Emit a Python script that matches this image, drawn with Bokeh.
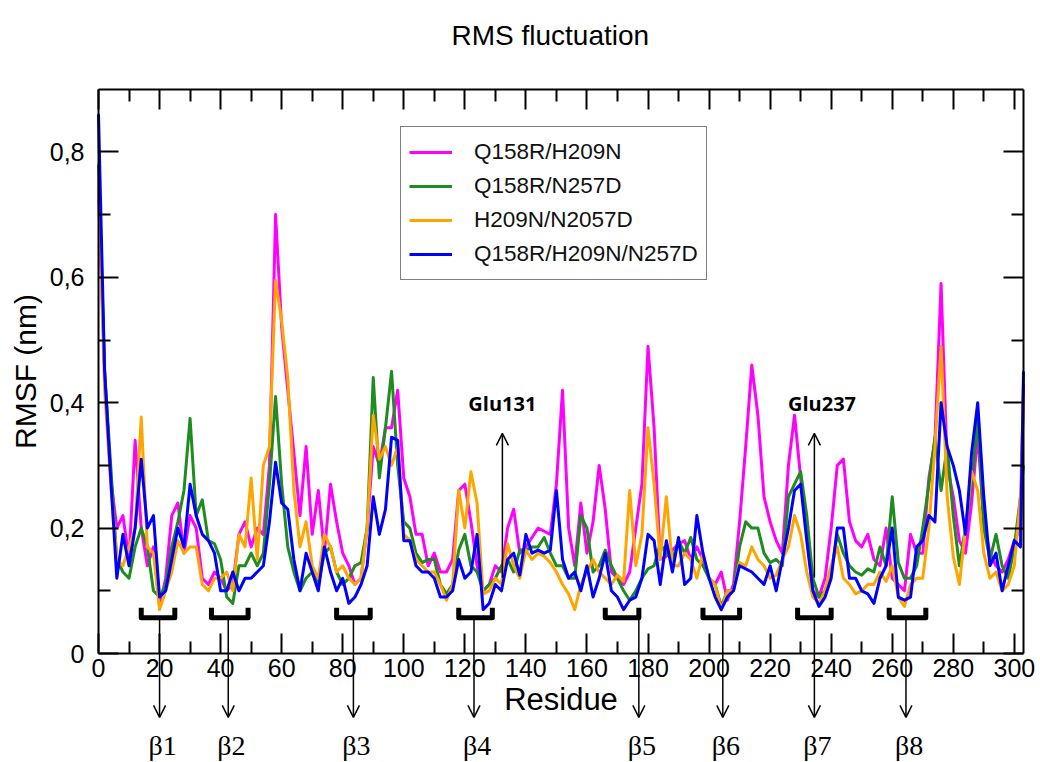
from bokeh.plotting import figure
from bokeh.models import (Range1d, LinearAxis, FixedTicker, CustomJSTickFormatter, Legend,
                          LegendItem, Arrow, OpenHead, Label, ColumnDataSource)
from bokeh.embed import file_html
from bokeh.resources import INLINE

# ---------------- data ----------------
residue = list(range(0, 303, 2)) + [303]

q158r_h209n = [
    0.74, 0.45, 0.28, 0.20, 0.22, 0.15, 0.34, 0.20, 0.14, 0.17, 0.075, 0.12, 0.22, 0.24, 0.16, 0.22,
    0.20, 0.12, 0.11, 0.13, 0.12, 0.10, 0.11, 0.19, 0.21, 0.17, 0.20, 0.19, 0.30, 0.70, 0.52, 0.42,
    0.32, 0.22, 0.33, 0.19, 0.26, 0.16, 0.27, 0.21, 0.16,
    0.14, 0.11, 0.12, 0.20, 0.33, 0.30, 0.36, 0.36, 0.42, 0.28, 0.25, 0.19, 0.19, 0.14, 0.16, 0.13,
    0.13, 0.15, 0.26, 0.27, 0.21, 0.14, 0.10, 0.11, 0.14, 0.13, 0.20, 0.23, 0.16, 0.17, 0.185, 0.20,
    0.195, 0.19, 0.27, 0.42, 0.20, 0.14, 0.24, 0.16,
    0.21, 0.30, 0.23, 0.13, 0.12, 0.11, 0.13, 0.20, 0.27, 0.49, 0.36, 0.15, 0.155, 0.165, 0.175, 0.18,
    0.15, 0.17, 0.15, 0.12, 0.11, 0.13, 0.085, 0.11, 0.21, 0.33, 0.46, 0.38, 0.25, 0.21, 0.18, 0.16,
    0.30, 0.38, 0.28, 0.19, 0.10, 0.09, 0.12, 0.20,
    0.30, 0.31, 0.21, 0.18, 0.17, 0.19, 0.15, 0.14, 0.20, 0.12, 0.11, 0.10, 0.19, 0.16, 0.16, 0.28,
    0.34, 0.59, 0.30, 0.25, 0.18, 0.16, 0.24, 0.35, 0.21, 0.16, 0.14, 0.13, 0.15, 0.18, 0.20, 0.43,
]

q158r_n257d = [
    0.78, 0.45, 0.30, 0.15, 0.13, 0.12, 0.17, 0.20, 0.17, 0.10, 0.09, 0.11, 0.17, 0.21, 0.26, 0.375,
    0.22, 0.245, 0.18, 0.175, 0.15, 0.09, 0.08, 0.14, 0.14, 0.16, 0.14, 0.16, 0.27, 0.41, 0.27, 0.17,
    0.13, 0.10, 0.12, 0.13, 0.11, 0.16, 0.17, 0.13, 0.11,
    0.12, 0.14, 0.145, 0.20, 0.44, 0.28, 0.36, 0.45, 0.30, 0.21, 0.20, 0.16, 0.145, 0.15, 0.15, 0.11,
    0.095, 0.11, 0.165, 0.19, 0.14, 0.13, 0.10, 0.11, 0.12, 0.14, 0.15, 0.13, 0.165, 0.165, 0.17, 0.17,
    0.185, 0.16, 0.14, 0.14, 0.12, 0.12, 0.22, 0.20,
    0.13, 0.14, 0.165, 0.14, 0.12, 0.10, 0.085, 0.10, 0.12, 0.135, 0.14, 0.175, 0.16, 0.15, 0.18, 0.16,
    0.185, 0.15, 0.14, 0.12, 0.11, 0.075, 0.10, 0.10, 0.17, 0.21, 0.20, 0.20, 0.16, 0.145, 0.15, 0.14,
    0.25, 0.27, 0.29, 0.22, 0.12, 0.09, 0.10, 0.13,
    0.19, 0.16, 0.14, 0.13, 0.125, 0.135, 0.13, 0.17, 0.14, 0.25, 0.145, 0.12, 0.12, 0.14, 0.20, 0.27,
    0.345, 0.26, 0.33, 0.22, 0.14, 0.20, 0.27, 0.375, 0.20, 0.15, 0.19, 0.14, 0.12, 0.17, 0.25, 0.30,
]

h209n_n2057d = [
    0.75, 0.42, 0.27, 0.15, 0.14, 0.17, 0.20, 0.377, 0.17, 0.16, 0.07, 0.10, 0.13, 0.18, 0.16, 0.17,
    0.17, 0.11, 0.10, 0.12, 0.12, 0.13, 0.10, 0.19, 0.17, 0.28, 0.15, 0.30, 0.33, 0.595, 0.53, 0.44,
    0.26, 0.17, 0.21, 0.14, 0.12, 0.19, 0.17, 0.13, 0.14,
    0.12, 0.11, 0.12, 0.20, 0.38, 0.31, 0.33, 0.30, 0.33, 0.19, 0.18, 0.15, 0.14, 0.13, 0.13, 0.11,
    0.085, 0.11, 0.26, 0.20, 0.29, 0.24, 0.095, 0.10, 0.12, 0.11, 0.175, 0.14, 0.12, 0.165, 0.15, 0.16,
    0.155, 0.145, 0.13, 0.11, 0.095, 0.07, 0.11, 0.13,
    0.15, 0.13, 0.12, 0.11, 0.125, 0.115, 0.26, 0.14, 0.19, 0.36, 0.27, 0.15, 0.25, 0.14, 0.14, 0.16,
    0.15, 0.12, 0.16, 0.12, 0.11, 0.07, 0.10, 0.10, 0.145, 0.14, 0.17, 0.15, 0.14, 0.12, 0.125, 0.15,
    0.17, 0.22, 0.19, 0.13, 0.09, 0.08, 0.10, 0.14,
    0.17, 0.12, 0.11, 0.095, 0.10, 0.11, 0.11, 0.13, 0.115, 0.14, 0.09, 0.075, 0.11, 0.12, 0.12, 0.20,
    0.33, 0.49, 0.25, 0.155, 0.11, 0.20, 0.29, 0.26, 0.16, 0.12, 0.13, 0.10, 0.11, 0.14, 0.25, 0.41,
]

q158r_h209n_n257d = [
    0.86, 0.45, 0.28, 0.12, 0.19, 0.14, 0.20, 0.31, 0.20, 0.22, 0.09, 0.10, 0.15, 0.20, 0.17, 0.27,
    0.22, 0.19, 0.18, 0.16, 0.10, 0.10, 0.13, 0.10, 0.12, 0.12, 0.13, 0.14, 0.21, 0.305, 0.24, 0.23,
    0.15, 0.10, 0.16, 0.13, 0.10, 0.17, 0.13, 0.10, 0.12,
    0.08, 0.09, 0.11, 0.14, 0.25, 0.19, 0.23, 0.345, 0.34, 0.18, 0.18, 0.14, 0.13, 0.13, 0.12, 0.09,
    0.09, 0.10, 0.15, 0.12, 0.13, 0.19, 0.07, 0.08, 0.11, 0.10, 0.15, 0.16, 0.125, 0.19, 0.16, 0.165,
    0.16, 0.165, 0.26, 0.15, 0.12, 0.13, 0.10, 0.14,
    0.09, 0.12, 0.16, 0.10, 0.09, 0.07, 0.085, 0.09, 0.12, 0.19, 0.18, 0.11, 0.18, 0.13, 0.185, 0.11,
    0.12, 0.22, 0.16, 0.12, 0.09, 0.07, 0.09, 0.10, 0.14, 0.135, 0.13, 0.12, 0.11, 0.14, 0.10, 0.15,
    0.20, 0.26, 0.27, 0.18, 0.10, 0.075, 0.09, 0.12,
    0.20, 0.20, 0.12, 0.12, 0.10, 0.095, 0.08, 0.12, 0.14, 0.20, 0.09, 0.085, 0.09, 0.17, 0.18, 0.22,
    0.21, 0.40, 0.33, 0.30, 0.26, 0.19, 0.32, 0.40, 0.25, 0.14, 0.16, 0.10, 0.14, 0.18, 0.17, 0.45,
]

series_names = ["Q158R/H209N", "Q158R/N257D", "H209N/N2057D", "Q158R/H209N/N257D"]
series_colors = ["#FF00FF", "#1E8C1E", "#FFA500", "#0000FF"]

x_ticks = list(range(0, 301, 20))
x_minor_ticks = list(range(10, 301, 20))
y_ticks = [0, 0.2, 0.4, 0.6, 0.8]
y_minor_ticks = [0.1, 0.3, 0.5, 0.7]
y_tick_labels = ["0", "0,2", "0,4", "0,6", "0,8"]

beta_names = ["β1", "β2", "β3", "β4", "β5", "β6", "β7", "β8"]
beta_start = [14, 37, 78, 118, 166, 198, 229, 259]
beta_end = [25, 49, 89, 129, 177, 210, 240, 271]
beta_arrow = [20, 42.5, 83.5, 123, 177, 204.5, 234.5, 264.5]

glu_names = ["Glu131", "Glu237"]
glu_arrow = [132.3, 234.5]
glu_label_x = [132.3, 237]

FONT = "Liberation Sans"
X_MAX = 303
Y_MAX = 0.9

# ---------------- figure ----------------
# The frame covers the whole canvas; the data box (0..303 x 0..0.9) is drawn by four
# axes placed at fixed locations with bounds, so nothing outside the box gets clipped.
PX_X = 925 / 303   # pixels per residue
PX_Y = 627         # pixels per nm
p = figure(width=1040, height=762, output_backend="svg", toolbar_location=None,
           x_range=Range1d(-98 / PX_X, X_MAX + 17 / PX_X),
           y_range=Range1d(-109 / PX_Y, 653 / PX_Y),
           min_border_left=0, min_border_right=0, min_border_top=0, min_border_bottom=0,
           x_axis_label="Residue", y_axis_label="RMSF (nm)")
xaxis_b = p.xaxis[0]
yaxis_l = p.yaxis[0]
p.xgrid.visible = False
p.ygrid.visible = False
p.outline_line_color = None
p.background_fill_color = "white"
p.border_fill_color = "white"

xt = FixedTicker(ticks=x_ticks, minor_ticks=x_minor_ticks)
yt = FixedTicker(ticks=y_ticks, minor_ticks=y_minor_ticks)
xaxis_b.ticker = xt
xaxis_b.fixed_location = 0
xaxis_b.bounds = (0, X_MAX)
yaxis_l.ticker = yt
yaxis_l.fixed_location = 0
yaxis_l.bounds = (0, Y_MAX)
yaxis_l.major_label_overrides = dict(zip(y_ticks, y_tick_labels))

blank = CustomJSTickFormatter(code="return ''")
top_axis = LinearAxis(ticker=xt, formatter=blank, fixed_location=Y_MAX, bounds=(0, X_MAX))
right_axis = LinearAxis(ticker=yt, formatter=blank, fixed_location=X_MAX, bounds=(0, Y_MAX))
p.add_layout(top_axis, "above")
p.add_layout(right_axis, "right")

for ax in [xaxis_b, yaxis_l, top_axis, right_axis]:
    ax.major_tick_in = 20
    ax.major_tick_out = 0
    ax.minor_tick_in = 12
    ax.minor_tick_out = 0
    ax.major_tick_line_width = 2
    ax.minor_tick_line_width = 2
    ax.axis_line_width = 2
    ax.major_tick_line_color = "black"
    ax.minor_tick_line_color = "black"
    ax.axis_line_color = "black"
    ax.major_label_text_font = FONT
    ax.major_label_text_font_size = "25px"
    ax.major_label_text_color = "black"
    ax.axis_label_text_font = FONT
    ax.axis_label_text_font_size = "31px"
    ax.axis_label_text_font_style = "normal"
    ax.axis_label_text_color = "black"

xaxis_b.major_label_standoff = 5
xaxis_b.axis_label_standoff = 2
yaxis_l.major_label_standoff = 14
yaxis_l.axis_label_standoff = 5
yaxis_l.axis_label_text_font_size = "30px"

series = [q158r_h209n, q158r_n257d, h209n_n2057d, q158r_h209n_n257d]
items = []
for name, color, vals in zip(series_names, series_colors, series):
    src = ColumnDataSource(dict(residue=residue, rmsf=vals))
    r = p.line("residue", "rmsf", source=src, line_color=color, line_width=3, line_join="round")
    items.append(LegendItem(label=name, renderers=[r]))

legend = Legend(items=items, location=(400, 482))
legend.label_text_font = FONT
legend.label_text_font_size = "22.5px"
legend.label_text_color = "#111111"
legend.border_line_color = "black"
legend.border_line_width = 1.5
legend.padding = 8
legend.spacing = 0
legend.margin = 0
legend.label_height = 34
legend.glyph_height = 34
legend.glyph_width = 43
legend.label_standoff = 22
legend.background_fill_color = "white"
legend.background_fill_alpha = 1
p.add_layout(legend)

# beta-strand brackets
br_xs = [[s, s, e, e] for s, e in zip(beta_start, beta_end)]
br_ys = [[0.073, 0.057, 0.057, 0.073] for _ in beta_start]
p.multi_line(br_xs, br_ys, line_color="black", line_width=5, line_join="round")

beta_src = ColumnDataSource(dict(x=beta_arrow, y0=[0.057] * len(beta_arrow),
                                 y1=[-0.102] * len(beta_arrow)))
p.add_layout(Arrow(end=OpenHead(size=12, line_width=1.5, line_color="black"),
                   x_start="x", y_start="y0", x_end="x", y_end="y1", source=beta_src,
                   line_width=1.5, line_color="black"))
for name, bx in zip(beta_names, beta_arrow):
    p.add_layout(Label(x=bx + 1, y=-0.146, text=name, text_align="center",
                       text_baseline="middle", text_font="Liberation Serif",
                       text_font_size="28px", text_color="black"))

# Glu markers
glu_src = ColumnDataSource(dict(x=glu_arrow, y0=[0.121] * 2, y1=[0.351] * 2))
p.add_layout(Arrow(end=OpenHead(size=12, line_width=1.5, line_color="black"),
                   x_start="x", y_start="y0", x_end="x", y_end="y1", source=glu_src,
                   line_width=1.5, line_color="black"))
for name, gx in zip(glu_names, glu_label_x):
    p.add_layout(Label(x=gx, y=0.399, text=name, text_align="center", text_baseline="middle",
                       text_font="Open Sans", text_font_style="bold",
                       text_font_size="20px", text_color="black"))

# title
p.add_layout(Label(x=148, y=0.986, text="RMS fluctuation", text_align="center",
                   text_baseline="middle", text_font=FONT, text_font_size="28px",
                   text_color="black"))

open("out.html", "w").write(file_html(p, INLINE))
